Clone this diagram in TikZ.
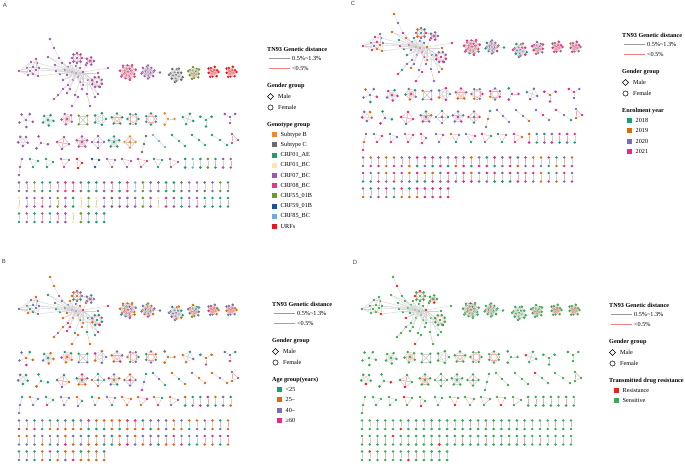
\documentclass[tikz,border=0pt]{standalone}
\usepackage{fontspec}
\setmainfont{Liberation Serif}
\newfontfamily\lsans{Liberation Sans}
\usetikzlibrary{shapes.geometric}

\definecolor{cB}{HTML}{F28A1E}
\definecolor{cC}{HTML}{6B6B6B}
\definecolor{cAE}{HTML}{1B9E77}
\definecolor{cBCa}{HTML}{FFE8A3}
\definecolor{c07}{HTML}{9C59B0}
\definecolor{c08}{HTML}{E2378C}
\definecolor{c55}{HTML}{6E9A2C}
\definecolor{c59}{HTML}{1C4F9C}
\definecolor{c85}{HTML}{6BAED6}
\definecolor{cURF}{HTML}{E3191C}
\definecolor{kG}{HTML}{1B9E77}
\definecolor{kO}{HTML}{E0670E}
\definecolor{kP}{HTML}{7570B3}
\definecolor{kM}{HTML}{E7298A}
\definecolor{dR}{HTML}{EE2222}
\definecolor{dG}{HTML}{3DAA52}
\definecolor{eg}{HTML}{D2D2D2}
\definecolor{ep}{HTML}{F4ABAB}
\definecolor{lgG}{HTML}{9A9A9A}
\definecolor{lgP}{HTML}{F28080}

\pgfmathdeclarerandomlist{palAdy}{{cAE}{cAE}{c07}{c07}{c07}{cAE}{cC}{c55}{c08}{c85}{c07}{cAE}{cBCa}}
\pgfmathdeclarerandomlist{palB}{{kO}{kO}{kO}{kP}{kP}{kP}{kM}{kG}{kG}}
\pgfmathdeclarerandomlist{palC}{{kM}{kM}{kM}{kP}{kP}{kP}{kO}{kG}}
\pgfmathdeclarerandomlist{palD}{{dG}{dG}{dG}{dG}{dG}{dG}{dG}{dG}{dG}{dG}{dG}{dG}{dG}{dG}{dG}{dG}{dG}{dR}}
\pgfmathdeclarerandomlist{edl}{{eg}{ep}{eg}}

\newcounter{gid}
\def\rrr{r}
\newcommand\newg{\stepcounter{gid}\edef\g{\pp g\number\value{gid}}}
\newcommand\nd[3]{\pickcol\node[vx,fill=\thecol] (\g-#1) at ({#2},{#3}) {};}
\newcommand\ed[3]{\draw[ln,draw=#1] (\g-#2) -- (\g-#3);}
\newcommand\edx[3]{\draw[ln,draw=#1] (#2) -- (#3);}
\newcommand\setgrpA[1]{\def\tmparg{#1}\ifx\tmparg\rrr\pgfmathrandomitem{\grpcol}{palAdy}\else\edef\grpcol{#1}\fi}

\newcommand\gdy[3]{\newg\setgrp{#3}\nd{1}{#1}{#2}\nd{2}{#1}{#2+8.5}%
 \pgfmathrandomitem{\ec}{edl}\ed{\ec}{1}{2}}
\newcommand\gtri[8]{\newg\setgrp{#7}\nd{1}{#1}{#2}\nd{2}{#3}{#4}\nd{3}{#5}{#6}%
 \ed{#8}{1}{2}\ed{#8}{2}{3}\ed{#8}{3}{1}}
\newcommand\gch[8]{\newg\setgrp{#7}\nd{1}{#1}{#2}\nd{2}{#3}{#4}\nd{3}{#5}{#6}%
 \ed{#8}{1}{2}\ed{#8}{2}{3}}
\newcommand\gstar[7]{\newg\setgrp{#6}\nd{0}{#1}{#2}%
 \foreach \k in {1,...,#3}{\pgfmathsetmacro\aa{#5+360*\k/#3}%
   \nd{\k}{#1+#4*cos(\aa)}{#2+#4*sin(\aa)}\ed{#7}{0}{\k}}}
\newcommand\gring[8]{\newg\setgrp{#6}%
 \foreach \k in {1,...,#3}{\pgfmathsetmacro\aa{#5+360*\k/#3}%
   \nd{\k}{#1+#4*cos(\aa)}{#2+#4*sin(\aa)}}%
 \foreach \k in {1,...,#3}{\pgfmathtruncatemacro\ka{mod(\k,#3)+1}%
   \pgfmathtruncatemacro\kb{mod(\k+1,#3)+1}\ed{#7}{\k}{\ka}\ed{#7}{\k}{\kb}}%
 \ifnum#8=1 \nd{0}{#1}{#2}\foreach \k in {1,...,#3}{\ed{eg}{0}{\k}}\fi}
\newcommand\gdense[8]{\newg\setgrp{#5}%
 \foreach \k in {1,...,#3}{\pgfmathsetmacro\aa{360*\k/#3+9*mod(\k,3)}%
   \pgfmathsetmacro\rad{#4*(0.8+0.2*mod(\k,2))}%
   \nd{o\k}{#1+\rad*cos(\aa)}{#2+\rad*sin(\aa)}}%
 \foreach \k in {1,...,#8}{\pgfmathsetmacro\aa{360*\k/#8+25}%
   \nd{i\k}{#1+0.45*#4*cos(\aa)}{#2+0.45*#4*sin(\aa)}}%
 \nd{c}{#1}{#2}%
 \foreach \k in {1,...,#3}{\pgfmathtruncatemacro\ka{mod(\k,#3)+1}%
   \pgfmathtruncatemacro\kb{mod(\k+2,#3)+1}\pgfmathtruncatemacro\ki{mod(\k,#8)+1}%
   \pgfmathtruncatemacro\kj{mod(\k+3,#8)+1}%
   \ed{#6}{o\k}{o\ka}\ed{#7}{o\k}{o\kb}\ed{#6}{o\k}{i\ki}\ed{#7}{o\k}{i\kj}}%
 \foreach \k in {1,...,#8}{\pgfmathtruncatemacro\ka{mod(\k,#8)+1}%
   \ed{#6}{i\k}{c}\ed{#7}{i\k}{i\ka}}}
\newcommand\bigcl[1]{\newg\setgrp{#1}\edef\hubg{\g}%
 \foreach \x/\y [count=\i] in {19/71,31/62,36/59,37/63,33/67,27/68,30/71,36/70,39/68,33/74,28/75,38/76}{\nd{s\i}{\x}{\y}}%
 \foreach \ea/\eb in {1/2,1/5,1/6,1/7,1/10,1/11,2/3,3/4,4/9,9/12,12/10,10/11,11/6,6/2,2/5,3/8,4/8,5/8,7/8,8/9,5/7,7/10,8/12,6/7}{\ed{eg}{s\ea}{s\eb}}%
 \foreach \ea/\eb in {2/4,3/5,5/9,8/10,7/12,6/5}{\ed{ep}{s\ea}{s\eb}}%
 \foreach \x/\y [count=\i] in {50/39,54/48,48/57,59/58,55/65,62/63,56/71,65/70,60/74,67/75,72/72,76/73,80/68,83/72,78/77,73/80,68/85,63/89,58/95,54/99,70/89,67/93,75/95,78/97,72/106,82/89,83/85,88/80,87/94,90/106,95/97,98/94,100/87,108/68,98/73,86/65,70/63,68/67,80/82,63/80,76/66}{\nd{h\i}{\x}{\y}}%
 \foreach \ea/\eb in {1/2,2/4,4/11,3/6,6/12,5/11,7/11,8/12,9/11,10/12,11/12,12/14,13/12,14/15,15/11,16/12,17/11,21/12,22/21,23/14,25/24,26/12,27/14,28/14,29/28,31/28,32/12,33/14,34/14,35/12,36/14,37/11,38/12,39/11,40/12,41/11,3/11,8/14,10/14,16/14,9/14,39/14,22/12,26/14,27/12,32/14,33/12,6/11,5/12,7/12,13/11,41/14,37/12,38/14,40/14,17/12,15/14}{\ed{eg}{h\ea}{h\eb}}%
 \foreach \ea/\eb in {18/17,19/18,20/19,24/23,30/29}{\ed{ep}{h\ea}{h\eb}}%
 \foreach \ea/\eb in {9/8,12/11,8/7,4/11,9/11}{\ed{eg}{s\ea}{h\eb}}%
 \gring{77}{58}{8}{5}{0}{#1}{ep}{1}\edef\ta{\g}%
 \gring{90}{61}{5}{3.8}{0}{#1}{ep}{1}\edef\tb{\g}%
 \gring{97}{82}{8}{5.2}{20}{#1}{ep}{1}\edef\tc{\g}%
 \edx{eg}{\ta-2}{\hubg-h12}\edx{eg}{\ta-3}{\hubg-h11}\edx{eg}{\ta-1}{\hubg-h13}%
 \edx{eg}{\tb-2}{\hubg-h36}\edx{ep}{\tb-3}{\ta-8}%
 \edx{eg}{\tc-4}{\hubg-h14}\edx{eg}{\tc-5}{\hubg-h28}\edx{eg}{\tc-3}{\hubg-h27}}

\newcommand\network{%
 \bigcl{c07}%
 \gdense{128}{72}{14}{8}{c08}{ep}{eg}{8}%
 \gdense{148}{72}{12}{6.5}{c07}{eg}{eg}{6}\nd{t}{160}{72.5}\ed{eg}{o12}{t}%
 \gdense{176}{75}{11}{7}{cC}{eg}{eg}{5}%
 \gdense{194}{73}{10}{6}{c55}{ep}{eg}{5}%
 \gdense{213}{72}{9}{5.5}{cURF}{ep}{ep}{4}%
 \gdense{231}{72}{9}{5.5}{cURF}{ep}{ep}{4}%
 \gstar{26}{120}{5}{7}{15}{c07}{eg}%
 \gring{48}{120}{5}{5.5}{10}{cAE}{eg}{1}%
 \gring{67}{119}{5}{5.5}{30}{c07}{ep}{1}%
 \gring{83}{120}{4}{6}{45}{c55}{eg}{0}%
 \gring{100}{119}{5}{6}{0}{cAE}{eg}{0}%
 \gring{117}{119}{5}{5.5}{-90}{cAE}{ep}{0}%
 \gring{133}{119}{6}{5.5}{0}{cAE}{ep}{0}%
 \gring{151}{119}{6}{5.5}{30}{cAE}{ep}{0}%
 \gstar{168}{119}{3}{6.5}{-120}{cB}{eg}%
 \gring{188}{119}{4}{5.5}{20}{cAE}{eg}{0}%
 \gstar{206}{120}{3}{6.5}{-150}{cAE}{eg}%
 \gstar{230}{117}{3}{6}{-30}{c07}{eg}%
 \gring{23}{141}{5}{5}{20}{c07}{eg}{0}%
 \gstar{41}{143}{3}{7}{-110}{c07}{eg}%
 \gring{63}{143}{4}{6}{10}{c07}{ep}{0}%
 \gring{82}{142}{5}{5.5}{-90}{c07}{ep}{1}%
 \gring{98}{142}{4}{6}{0}{c07}{eg}{1}%
 \gring{114}{142}{5}{5.5}{-90}{cAE}{eg}{1}%
 \gring{130}{142}{4}{5.5}{0}{cB}{ep}{1}%
 \gch{146}{136}{144}{144}{142}{152}{cC}{eg}%
 \gch{153}{135}{159}{141}{165}{147}{c85}{eg}%
 \gch{172}{135}{179}{141}{185}{146}{cAE}{eg}%
 \gch{192}{135}{199}{140}{205}{145}{cAE}{eg}%
 \gch{212}{135}{220}{140}{227}{145}{cAE}{eg}%
 \gtri{232}{134}{238}{140}{232}{143}{c07}{ep}%
 \gch{22}{159}{20}{167}{19}{175}{c07}{ep}%
 \gtri{30}{159}{38}{161}{33}{167}{cAE}{eg}%
 \gtri{46}{159}{53}{162}{47}{167}{cAE}{eg}%
 \gtri{61}{159}{69}{160}{64}{167}{c07}{ep}%
 \gtri{77}{159}{82}{163}{78}{168}{cURF}{ep}%
 \gtri{92}{159}{99}{160}{95}{167}{c59}{eg}%
 \gtri{107}{159}{115}{160}{112}{167}{c07}{ep}%
 \gtri{122}{159}{131}{161}{127}{167}{c07}{ep}%
 \gtri{138}{159}{147}{161}{141}{167}{c08}{ep}%
 \gtri{154}{159}{162}{160}{158}{167}{cAE}{ep}%
 \gtri{170}{159}{178}{162}{171}{167}{c07}{ep}%
 \foreach \cl [count=\i] in {cAE,c85,cAE,c55,cAE,c07,c07}{\gdy{177.5+7.6*\i}{159}{\cl}}%
 \foreach \rw/\yy/\nn in {0/182.5/28,1/198/28,2/213.5/12}{%
   \foreach \i in {1,...,\nn}{\gdy{19+7.74*(\i-1)}{\yy}{r}}}%
}

\newcommand\lgd[5]{%
 \node[lgtitle] (#1-t) at (#2,#3) {TN93 Genetic distance};
 \coordinate (#1-a1) at (#2+2,#3+9.5); \coordinate (#1-a2) at (#2+23,#3+9.5);
 \draw[lgln,lgG] (#1-a1) -- (#1-a2);
 \node[lgtext] (#1-at) at (#2+25,#3+9.5) {0.5\%\textasciitilde1.3\%};
 \coordinate (#1-b1) at (#2+2,#3+19.5); \coordinate (#1-b2) at (#2+23,#3+19.5);
 \draw[lgln,lgP] (#1-b1) -- (#1-b2);
 \node[lgtext] (#1-bt) at (#2+25,#3+19.5) {<0.5\%};
 \node[lgtitle] (#1-g) at (#2,#3+37.5) {Gender group};
 \node[diamond,draw=black,line width=0.5pt,inner sep=0pt,minimum size=6.2pt] (#1-m) at (#2+3.5,#3+47.5) {};
 \node[lgtext] (#1-mt) at (#2+11,#3+47.5) {Male};
 \node[circle,draw=black,line width=0.5pt,inner sep=0pt,minimum size=5.2pt] (#1-f) at (#2+3.5,#3+58.5) {};
 \node[lgtext] (#1-ft) at (#2+11,#3+58.5) {Female};
 \node[lgtitle] (#1-h) at (#2,#3+76) {#4};
 \foreach \cl/\lb [count=\i] in {#5}{%
   \node[lgbox,fill=\cl] (#1-s\i) at (#2+7.5,#3+75.5+10.2*\i) {};
   \node[lgtext] (#1-l\i) at (#2+13.5,#3+75.5+10.2*\i) {\lb};}
}

\begin{document}
\begin{tikzpicture}[x=1pt,y=-1pt,
  vx/.style={circle,inner sep=0pt,minimum size=2.9pt,draw=none},
  ln/.style={line width=0.4pt},
  lgln/.style={line width=0.6pt},
  lgtitle/.style={font=\bfseries\fontsize{6.2}{7}\selectfont,anchor=west,inner sep=0pt},
  lgtext/.style={font=\fontsize{6.2}{7}\selectfont,anchor=west,inner sep=0pt},
  lgbox/.style={minimum size=5pt,inner sep=0pt,draw=none},
  plabel/.style={font=\lsans\fontsize{6}{7}\selectfont,text=black!75,inner sep=0pt}]
\useasboundingbox (0,0) rectangle (685,476);
\fill[white] (0,0) rectangle (685,476);

\begin{scope}
 \def\pp{A}\let\setgrp\setgrpA\def\pickcol{\let\thecol\grpcol}\pgfmathsetseed{11}
 \network
\end{scope}
\begin{scope}[shift={(0,238)}]
 \def\pp{B}\def\setgrp#1{}\def\pickcol{\pgfmathrandomitem{\thecol}{palB}}\pgfmathsetseed{23}
 \network
\end{scope}
\begin{scope}[shift={(344,-25)}]
 \def\pp{C}\def\setgrp#1{}\def\pickcol{\pgfmathrandomitem{\thecol}{palC}}\pgfmathsetseed{37}
 \network
\end{scope}
\begin{scope}[shift={(343,238)}]
 \def\pp{D}\def\setgrp#1{}\def\pickcol{\pgfmathrandomitem{\thecol}{palD}}\pgfmathsetseed{41}
 \network
\end{scope}

\node[plabel] (labA) at (5,5) {A};
\node[plabel] (labB) at (4,261) {B};
\node[plabel] (labC) at (353,3.5) {C};
\node[plabel] (labD) at (355,262) {D};

\lgd{LA}{267}{49}{Genotype group}{cB/Subtype B,cC/Subtype C,cAE/CRF01\_AE,cBCa/CRF01\_BC,c07/CRF07\_BC,c08/CRF08\_BC,c55/CRF55\_01B,c59/CRF59\_01B,c85/CRF85\_BC,cURF/URFs}
\lgd{LB}{272}{304}{Age group(years)}{kG/<25,kO/25--,kP/40--,kM/≥60}
\lgd{LC}{622}{35}{Enrolment year}{kG/2018,kO/2019,kP/2020,kM/2021}
\lgd{LD}{609}{305}{Transmitted drug resistance}{dR/Resistance,dG/Sensitive}
\end{tikzpicture}
\end{document}
